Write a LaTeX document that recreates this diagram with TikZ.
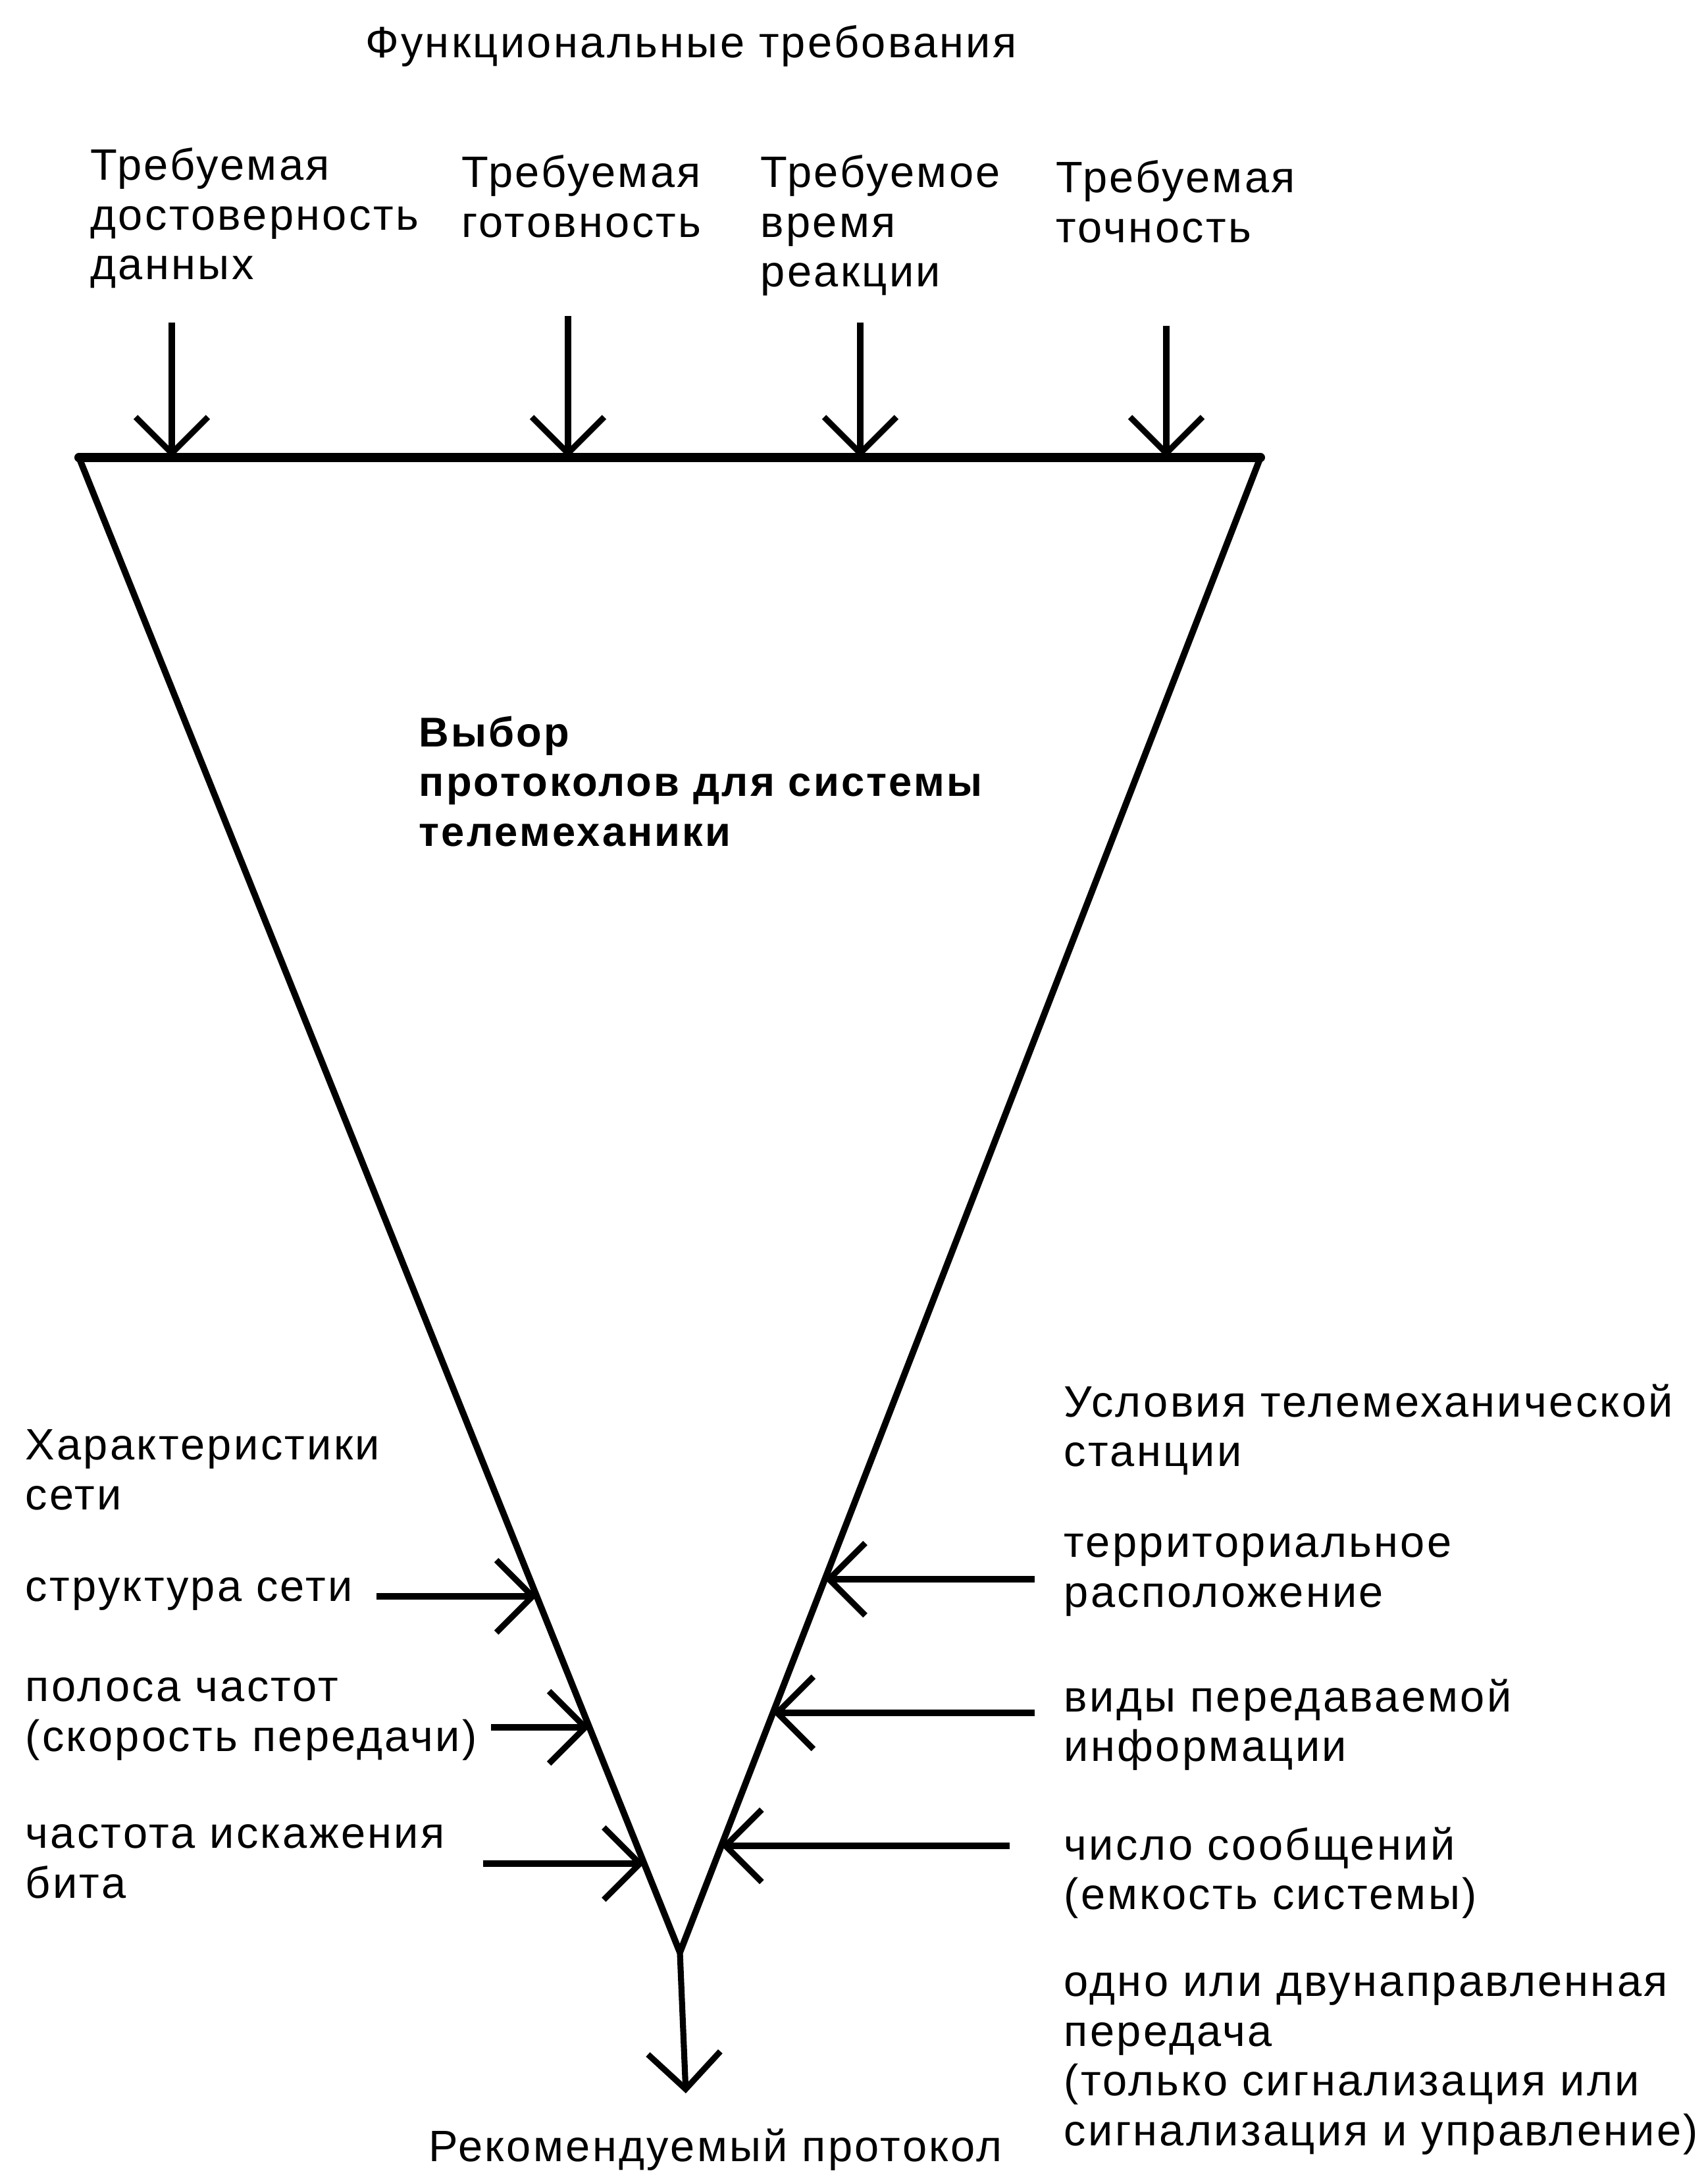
\documentclass[tikz,border=0pt]{standalone}
\usepackage{fontspec}
\setmainfont{Liberation Sans}[LetterSpace=5]
\usepackage{tkz-euclide}
\usetikzlibrary{arrows.meta}
\tikzset{>={Straight Barb[length=5.5mm,width=11mm]}}
\tikzset{lbl/.style={align=left, inner sep=0pt, anchor=north west, font=\fontsize{19}{21.5}\selectfont}}

\begin{document}
\begin{tikzpicture}
    \useasboundingbox (0,0) rectangle (25.95,33.01);
    % funnel
    \tkzDefPoints{1.2/26.06/L, 19.15/26.06/R, 10.33/3.35/A, 10.42/1.21/O}
    \tkzDrawPolygon[line width=2.8pt](L,R,A)
    \tkzDrawSegment[line width=4pt](L,R)
    \draw[line width=2.6pt,->] (A) -- (O);
    % requirements from above
    \tkzDefPoints{2.61/28.11/t1, 8.63/28.21/t2, 13.07/28.11/t3, 17.72/28.06/t4}
    \tkzDefPoints{2.61/26.06/b1, 8.63/26.06/b2, 13.07/26.06/b3, 17.72/26.06/b4}
    \draw[line width=2.6pt,->] (t1) -- (b1);
    \draw[line width=2.6pt,->] (t2) -- (b2);
    \draw[line width=2.6pt,->] (t3) -- (b3);
    \draw[line width=2.6pt,->] (t4) -- (b4);
    % network characteristics, left side
    \tkzDefPoints{5.72/8.76/s1, 7.46/6.77/s2, 7.34/4.70/s3}
    \tkzDefShiftPoint[s1](0:1){h1}
    \tkzInterLL(s1,h1)(L,A) \tkzGetPoint{e1}
    \tkzDefShiftPoint[s2](0:1){h2}
    \tkzInterLL(s2,h2)(L,A) \tkzGetPoint{e2}
    \tkzDefShiftPoint[s3](0:1){h3}
    \tkzInterLL(s3,h3)(L,A) \tkzGetPoint{e3}
    \draw[line width=2.6pt,->] (s1) -- (e1);
    \draw[line width=2.6pt,->] (s2) -- (e2);
    \draw[line width=2.6pt,->] (s3) -- (e3);
    % station conditions, right side
    \tkzDefPoints{15.72/9.02/r1, 15.72/6.99/r2, 15.34/4.97/r3}
    \tkzDefShiftPoint[r1](180:1){g1}
    \tkzInterLL(r1,g1)(R,A) \tkzGetPoint{f1}
    \tkzDefShiftPoint[r2](180:1){g2}
    \tkzInterLL(r2,g2)(R,A) \tkzGetPoint{f2}
    \tkzDefShiftPoint[r3](180:1){g3}
    \tkzInterLL(r3,g3)(R,A) \tkzGetPoint{f3}
    \draw[line width=2.6pt,->] (r1) -- (f1);
    \draw[line width=2.6pt,->] (r2) -- (f2);
    \draw[line width=2.6pt,->] (r3) -- (f3);
    % texts
    \node[lbl, anchor=center] (func) at (10.50,32.31) {Функциональные требования};
    \node[lbl] (dost) at (1.37,30.77) {Требуемая\\достоверность\\данных};
    \node[lbl] (gotov) at (7.01,30.66) {Требуемая\\готовность};
    \node[lbl] (vrem) at (11.55,30.66) {Требуемое\\время\\реакции};
    \node[lbl] (tochn) at (16.04,30.58) {Требуемая\\точность};
    \node[lbl, font=\fontsize{18}{21.5}\selectfont\bfseries] (vybor) at (6.36,22.14) {Выбор\\протоколов для системы\\телемеханики};
    \node[lbl] (kharakt) at (0.38,11.30) {Характеристики\\сети};
    \node[lbl] (strukt) at (0.38,9.05) {структура сети};
    \node[lbl] (polosa) at (0.38,7.53) {полоса частот\\(скорость передачи)};
    \node[lbl] (iskazh) at (0.38,5.30) {частота искажения\\бита};
    \node[lbl] (uslov) at (16.16,11.99) {Условия телемеханической\\станции};
    \node[lbl] (terr) at (16.16,9.72) {территориальное\\расположение};
    \node[lbl] (vidy) at (16.16,7.51) {виды передаваемой\\информации};
    \node[lbl] (chislo) at (16.16,5.26) {число сообщений\\(емкость системы)};
    \node[lbl] (napr) at (16.16,3.05) {одно или двунаправленная\\передача\\(только сигнализация или\\сигнализация и управление)};
    \node[lbl, anchor=center] (rekom) at (10.87,0.35) {Рекомендуемый протокол};
\end{tikzpicture}
\end{document}
